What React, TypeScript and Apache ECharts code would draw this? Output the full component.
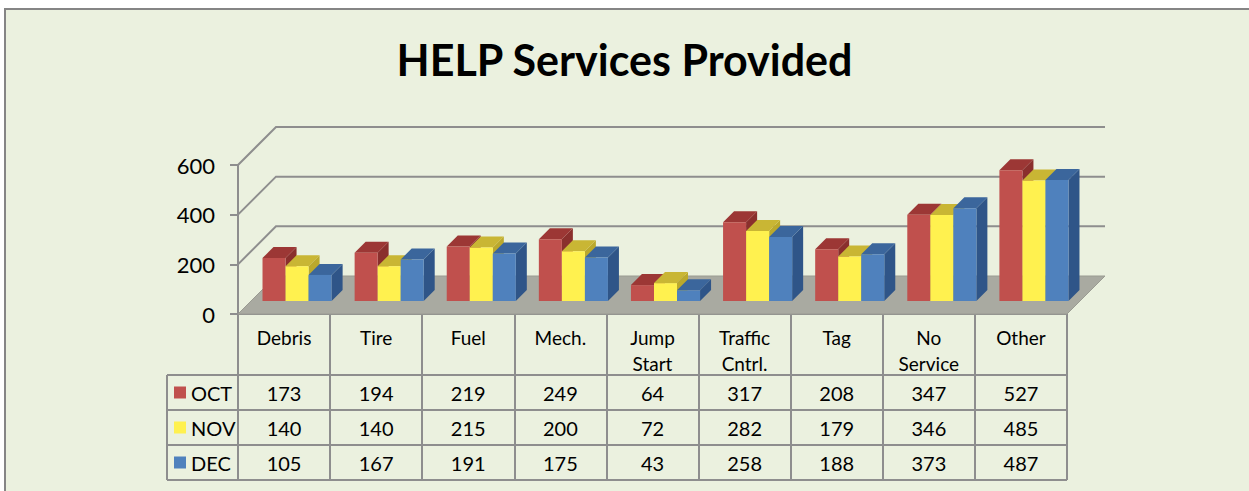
import React, { useEffect, useRef } from 'react';
import * as echarts from 'echarts';

const CATEGORIES = ['Debris', 'Tire', 'Fuel', 'Mech.', 'Jump\nStart', 'Traffic\nCntrl.', 'Tag', 'No\nService', 'Other'];
const OCT = [173, 194, 219, 249, 64, 317, 208, 347, 527];
const NOV = [140, 140, 215, 200, 72, 282, 179, 346, 485];
const DEC = [105, 167, 191, 175, 43, 258, 188, 373, 487];
const SERIES_NAMES = ['OCT', 'NOV', 'DEC'];
const SERIES_VALUES = [OCT, NOV, DEC];
const Y_MIN = 0;
const Y_MAX = 600;
const Y_INTERVAL = 200;
const TITLE = 'HELP Services Provided';

const COLORS = [
  { front: '#C0504D', top: '#9C3735', side: '#8A2F2D' },
  { front: '#FFF14F', top: '#C9B634', side: '#BBA92C' },
  { front: '#4F81BD', top: '#3B669C', side: '#2F5588' },
];

const FONT = 'Lato';
const GRID = { left: 238, top: 165, width: 829, height: 149 };
const WALL_DEPTH = 38;
const BAR_SHIFT = 13;
const BAR_DEPTH = 11;
const GRID_COLOR = '#8E8E8E';
const FLOOR_COLOR = '#A9AAA1';
const BG = '#EBF1DF';
const HEADER_H = 61;
const ROW_H = 35;
const LEGEND_COL_LEFT = 167;

export default function App() {
  const ref = useRef<HTMLDivElement>(null);
  useEffect(() => {
    document.body.style.margin = '0';
    const chart = echarts.init(ref.current!, null, { renderer: 'svg' });
    const gridBottom = GRID.top + GRID.height;
    const gridRight = GRID.left + GRID.width;
    const headerBottom = gridBottom + HEADER_H;
    const tableBottom = headerBottom + ROW_H * SERIES_NAMES.length;

    const tickVals: number[] = [];
    for (let v = Y_MIN + Y_INTERVAL; v <= Y_MAX; v += Y_INTERVAL) tickVals.push(v);

    const frameSeries = {
      type: 'custom',
      name: 'frame',
      z: 1,
      clip: false,
      silent: true,
      data: [[0, 0]],
      renderItem: (params: any, api: any) => {
        const cs = params.coordSys;
        const L = cs.x;
        const R = cs.x + cs.width;
        const D = WALL_DEPTH;
        const y0 = api.coord([0, Y_MIN])[1];
        const children: any[] = [
          {
            type: 'polygon',
            shape: { points: [[L, y0], [R, y0], [R + D, y0 - D], [L + D, y0 - D]] },
            style: { fill: FLOOR_COLOR, stroke: '#9A9B92', lineWidth: 1 },
          },
        ];
        tickVals.forEach((t) => {
          const y = api.coord([0, t])[1];
          children.push({
            type: 'polyline',
            shape: { points: [[L, y], [L + D, y - D], [R + D, y - D]] },
            style: { stroke: GRID_COLOR, lineWidth: 2, fill: 'none' },
          });
        });
        return { type: 'group', children };
      },
    };

    const barSeries = SERIES_NAMES.map((name, s) => ({
      type: 'custom',
      name,
      z: 2,
      clip: false,
      itemStyle: { color: COLORS[s].front },
      data: SERIES_VALUES[s].map((v, i) => [i, v]),
      renderItem: (params: any, api: any) => {
        const i = api.value(0);
        const v = api.value(1);
        const base = api.coord([i, Y_MIN]);
        const top = api.coord([i, v]);
        const bandW = api.size([1, 0])[0];
        const barW = bandW * 0.25;
        const x0 = base[0] - (barW * 3) / 2 + s * barW + BAR_SHIFT;
        const yb = base[1] - BAR_SHIFT;
        const yt = top[1] - BAR_SHIFT;
        const d = BAR_DEPTH;
        const c = COLORS[s];
        return {
          type: 'group',
          children: [
            {
              type: 'polygon',
              shape: { points: [[x0 + barW, yt], [x0 + barW + d, yt - d], [x0 + barW + d, yb - d], [x0 + barW, yb]] },
              style: { fill: c.side },
            },
            {
              type: 'polygon',
              shape: { points: [[x0, yt], [x0 + barW, yt], [x0 + barW + d, yt - d], [x0 + d, yt - d]] },
              style: { fill: c.top },
            },
            {
              type: 'rect',
              shape: { x: x0, y: yt, width: barW, height: yb - yt },
              style: { fill: c.front },
            },
          ],
        };
      },
    }));

    const valueAxes = SERIES_VALUES.map((vals, r) => ({
      type: 'category',
      gridIndex: 0,
      position: 'bottom',
      offset: HEADER_H + ROW_H * r + ROW_H / 2,
      data: vals.map((v) => String(v)),
      axisLine: { show: false },
      axisTick: { show: false },
      splitLine: { show: false },
      axisLabel: { margin: 0, verticalAlign: 'middle', fontSize: 20, color: '#000', fontFamily: FONT },
    }));

    const lineStyle = { stroke: GRID_COLOR, lineWidth: 2 };
    const tableLines: any[] = [];
    for (let r = 0; r <= SERIES_NAMES.length; r++) {
      const y = headerBottom + r * ROW_H;
      tableLines.push({ type: 'line', shape: { x1: LEGEND_COL_LEFT, y1: y, x2: gridRight, y2: y }, style: lineStyle, z: 10 });
    }
    tableLines.push({ type: 'line', shape: { x1: LEGEND_COL_LEFT, y1: headerBottom, x2: LEGEND_COL_LEFT, y2: tableBottom }, style: lineStyle, z: 10 });

    const option: any = {
      animation: false,
      backgroundColor: BG,
      textStyle: { fontFamily: FONT },
      title: {
        text: TITLE,
        left: 'center',
        top: 33,
        textStyle: { fontSize: 43, fontWeight: 'bold', color: '#000', fontFamily: FONT },
      },
      legend: {
        data: SERIES_NAMES,
        orient: 'vertical',
        left: 174,
        top: headerBottom + (ROW_H - 20) / 2,
        itemGap: ROW_H - 20,
        itemWidth: 12,
        itemHeight: 12,
        padding: 0,
        icon: 'rect',
        selectedMode: false,
        textStyle: { fontSize: 20, lineHeight: 20, color: '#000', fontFamily: FONT },
      },
      grid: { left: GRID.left, top: GRID.top, width: GRID.width, height: GRID.height },
      xAxis: [
        {
          type: 'category',
          data: CATEGORIES,
          position: 'bottom',
          boundaryGap: true,
          axisLine: { show: true, lineStyle: { color: GRID_COLOR, width: 2 } },
          axisTick: { show: true, length: tableBottom - gridBottom, lineStyle: { color: GRID_COLOR, width: 2 } },
          axisLabel: { margin: 10, fontSize: 19, lineHeight: 26, color: '#000', fontFamily: FONT, interval: 0 },
          splitLine: { show: false },
        },
        ...valueAxes,
      ],
      yAxis: {
        type: 'value',
        min: Y_MIN,
        max: Y_MAX,
        interval: Y_INTERVAL,
        axisLine: { show: true, lineStyle: { color: GRID_COLOR, width: 2 } },
        axisTick: { show: true, length: 8, lineStyle: { color: GRID_COLOR, width: 2 } },
        axisLabel: { margin: 23, fontSize: 22, color: '#000', fontFamily: FONT },
        splitLine: { show: false },
      },
      graphic: [
        { type: 'rect', shape: { x: 0, y: 0, width: 1249, height: 8 }, style: { fill: '#fff' }, z: 20 },
        { type: 'rect', shape: { x: 0, y: 0, width: 4, height: 491 }, style: { fill: '#fff' }, z: 20 },
        { type: 'line', shape: { x1: 4, y1: 9, x2: 1249, y2: 9 }, style: { stroke: '#858585', lineWidth: 2 }, z: 21 },
        { type: 'line', shape: { x1: 5, y1: 8, x2: 5, y2: 491 }, style: { stroke: '#858585', lineWidth: 2 }, z: 21 },
        ...tableLines,
      ],
      series: [frameSeries, ...barSeries],
    };
    chart.setOption(option);
    return () => chart.dispose();
  }, []);
  return <div ref={ref} style={{ width: 1249, height: 491 }} />;
}
